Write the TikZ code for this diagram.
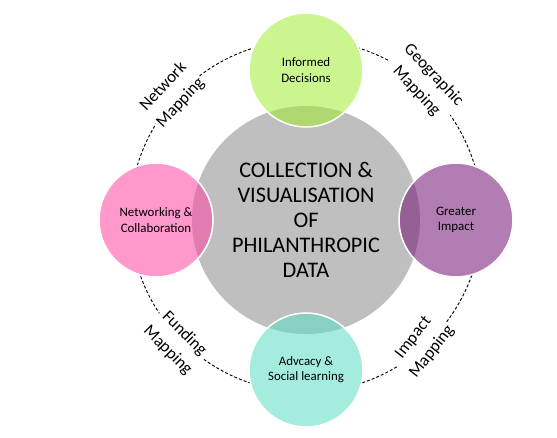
\documentclass[tikz,border=0pt]{standalone}
\usepackage{fontspec}
\setmainfont{Carlito}
\usepackage{tikz}
\usetikzlibrary{positioning}
\definecolor{coregray}{RGB}{191,191,191}
\definecolor{decgreen}{RGB}{162,238,50}
\definecolor{netpink}{RGB}{255,68,162}
\definecolor{imppurple}{RGB}{115,19,115}
\definecolor{advteal}{RGB}{91,222,195}

\begin{document}
\begin{tikzpicture}
[x=0.03cm, y=0.03cm,
core/.style={circle, fill=coregray, minimum size=6.84cm, inner sep=0pt, align=center, font=\fontsize{19}{21.5}\selectfont},
petal/.style={circle, minimum size=3.42cm, inner sep=0pt, draw=white, line width=1.3pt, fill opacity=0.55, text opacity=1, align=center, font=\fontsize{11}{13}\selectfont},
ringlabel/.style={fill=white, inner sep=1pt, align=center, font=\fontsize{14.5}{20}\selectfont},
ring/.style={dash pattern=on 2.5pt off 1.8pt, line width=0.8pt},
node distance=4.5cm,]
    \useasboundingbox (-306,-217) rectangle (251,220);
    \draw[ring] (0,4) circle (176);
    \foreach \p in {(0,150),(-150,0),(150,0),(0,-150)}
        \fill[white] \p circle (57);
    \node (core) [core] {COLLECTION \&\\ VISUALISATION\\ OF\\ PHILANTHROPIC\\ DATA};
    \node (informed) [petal, fill=decgreen, above of=core] {Informed\\ Decisions};
    \node (networking) [petal, fill=netpink, left of=core] {Networking \&\\ Collaboration};
    \node (impact) [petal, fill=imppurple, right of=core] {Greater\\ Impact};
    \node (advocacy) [petal, fill=advteal, below of=core] {Advcacy \&\\ Social learning};
    \node (netmap) [ringlabel, rotate=47] at (-134,125) {Network\\ Mapping};
    \node (geomap) [ringlabel, rotate=-47] at (119,137) {Geographic\\ Mapping};
    \node (fundmap) [ringlabel, rotate=-45] at (-130,-122) {Funding\\ Mapping};
    \node (impmap) [ringlabel, rotate=52] at (117,-125) {Impact\\ Mapping};
\end{tikzpicture}
\end{document}
